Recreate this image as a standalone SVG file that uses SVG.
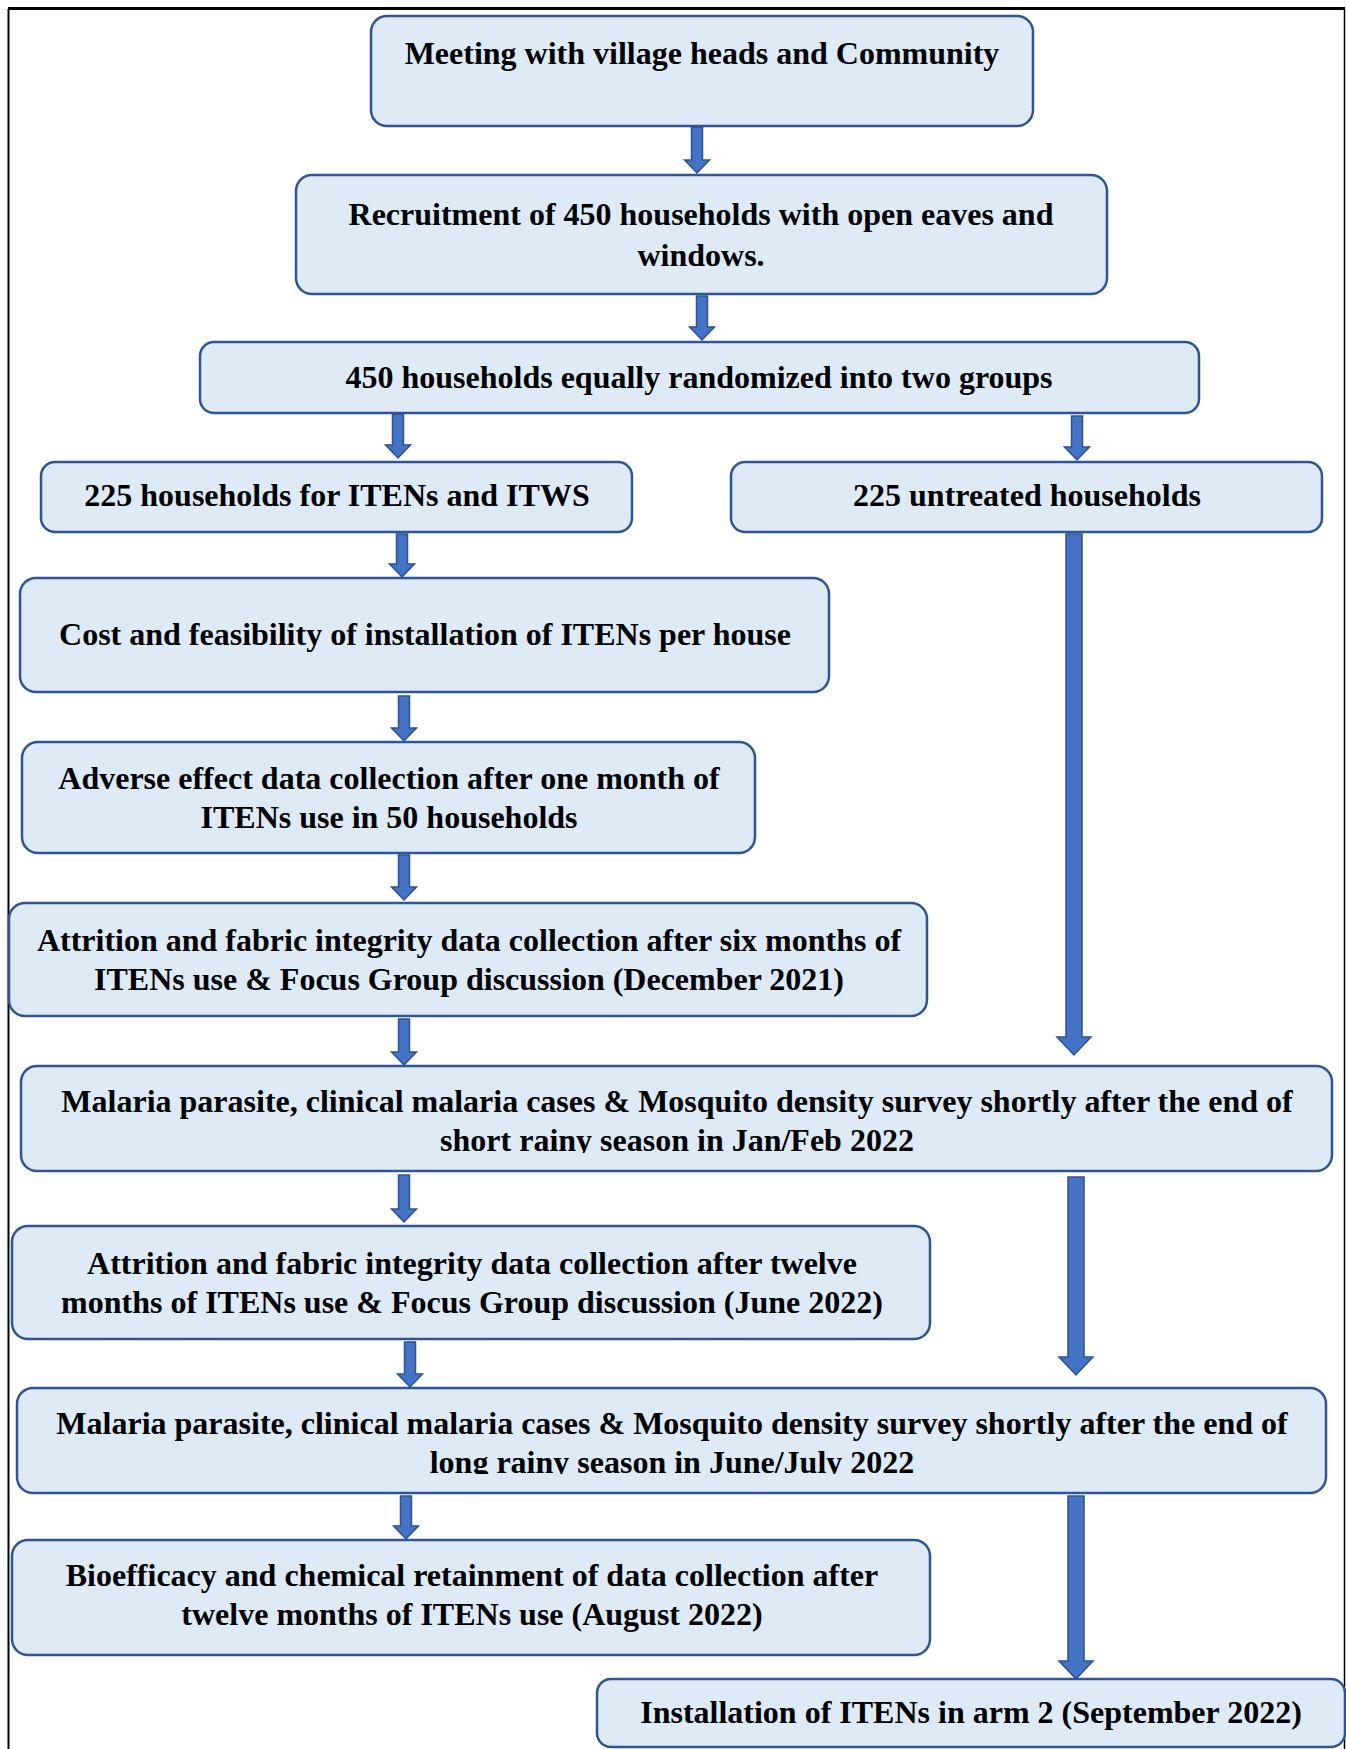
<svg xmlns="http://www.w3.org/2000/svg" width="1346" height="1749" viewBox="0 0 1346 1749">
<style>
.box{fill:#DEEAF6;stroke:#2F5597;stroke-width:2.5}
.arr{fill:#4472C4;stroke:#2F528F;stroke-width:1.5;stroke-linejoin:miter}
text{font-family:"Liberation Serif","Times New Roman",serif;font-weight:bold;font-size:32px;fill:#000;text-anchor:middle}
</style>
<defs>
<clipPath id="c9"><rect x="0" y="1060" width="1346" height="93"/></clipPath>
<clipPath id="c11"><rect x="0" y="1380" width="1346" height="94"/></clipPath>
</defs>
<rect width="1346" height="1749" fill="#fff"/>
<g id="frame" stroke="#000" fill="none">
<line x1="8" y1="8.5" x2="1345" y2="8.5" stroke-width="3"/>
<line x1="8.5" y1="9" x2="8.5" y2="1749" stroke-width="2"/>
<line x1="1344.5" y1="9" x2="1344.5" y2="1749" stroke-width="1.5"/>
</g>
<g id="connectors">
<path class="arr" d="M691.5 127H702.5V160H709.5L697 173L684.5 160H691.5Z"/>
<path class="arr" d="M696.5 296H707.5V327H714.5L702 340L689.5 327H696.5Z"/>
<path class="arr" d="M392.5 414H403.5V445H410.5L398 458L385.5 445H392.5Z"/>
<path class="arr" d="M1071.5 416H1082.5V447H1089.5L1077 460L1064.5 447H1071.5Z"/>
<path class="arr" d="M396.5 534H407.5V564H414.5L402 577L389.5 564H396.5Z"/>
<path class="arr" d="M1066 534H1082V1037H1091L1074 1055L1057 1037H1066Z"/>
<path class="arr" d="M398.5 696H409.5V728H416.5L404 741L391.5 728H398.5Z"/>
<path class="arr" d="M398.5 855H409.5V887H416.5L404 900L391.5 887H398.5Z"/>
<path class="arr" d="M398.5 1019H409.5V1052H416.5L404 1065L391.5 1052H398.5Z"/>
<path class="arr" d="M398.5 1175H409.5V1209H416.5L404 1222L391.5 1209H398.5Z"/>
<path class="arr" d="M1068 1177H1084V1357H1093L1076 1375L1059 1357H1068Z"/>
<path class="arr" d="M404.5 1342H415.5V1374H422.5L410 1387L397.5 1374H404.5Z"/>
<path class="arr" d="M400.5 1496H411.5V1526H418.5L406 1539L393.5 1526H400.5Z"/>
<path class="arr" d="M1068 1496H1084V1661H1093L1076 1679L1059 1661H1068Z"/>
</g>
<g id="n1"><rect class="box" x="371" y="16" width="662" height="110" rx="16"/><text x="702" y="64">Meeting with village heads and Community</text></g>
<g id="n2"><rect class="box" x="296" y="175" width="811" height="119" rx="16"/><text x="701" y="225">Recruitment of 450 households with open eaves and</text><text x="701" y="266">windows.</text></g>
<g id="n3"><rect class="box" x="200" y="342" width="999" height="71" rx="14"/><text x="699" y="388">450 households equally randomized into two groups</text></g>
<g id="n4"><rect class="box" x="41" y="462" width="591" height="70" rx="14"/><text x="337" y="506">225 households for ITENs and ITWS</text></g>
<g id="n5"><rect class="box" x="731" y="462" width="591" height="70" rx="14"/><text x="1027" y="506">225 untreated households</text></g>
<g id="n6"><rect class="box" x="20" y="578" width="809" height="114" rx="16"/><text x="425" y="645">Cost and feasibility of installation of ITENs per house</text></g>
<g id="n7"><rect class="box" x="22" y="742" width="733" height="111" rx="16"/><text x="389" y="789">Adverse effect data collection after one month of</text><text x="389" y="828">ITENs use in 50 households</text></g>
<g id="n8"><rect class="box" x="9" y="903" width="918" height="113" rx="16"/><text x="469" y="951">Attrition and fabric integrity data collection after six months of</text><text x="469" y="990">ITENs use &amp; Focus Group discussion (December 2021)</text></g>
<g id="n9"><rect class="box" x="21" y="1066" width="1311" height="105" rx="16"/><text x="677" y="1112">Malaria parasite, clinical malaria cases &amp; Mosquito density survey shortly after the end of</text><text x="677" y="1151" clip-path="url(#c9)">short rainy season in Jan/Feb 2022</text></g>
<g id="n10"><rect class="box" x="12" y="1226" width="918" height="113" rx="16"/><text x="472" y="1274">Attrition and fabric integrity data collection after twelve</text><text x="472" y="1313">months of ITENs use &amp; Focus Group discussion (June 2022)</text></g>
<g id="n11"><rect class="box" x="17" y="1388" width="1309" height="105" rx="16"/><text x="672" y="1434">Malaria parasite, clinical malaria cases &amp; Mosquito density survey shortly after the end of</text><text x="672" y="1473" clip-path="url(#c11)">long rainy season in June/July 2022</text></g>
<g id="n12"><rect class="box" x="12" y="1540" width="918" height="115" rx="16"/><text x="472" y="1586">Bioefficacy and chemical retainment of data collection after</text><text x="472" y="1625">twelve months of ITENs use (August 2022)</text></g>
<g id="n13"><rect class="box" x="597" y="1679" width="748" height="68" rx="14"/><text x="971" y="1723">Installation of ITENs in arm 2 (September 2022)</text></g>
</svg>
